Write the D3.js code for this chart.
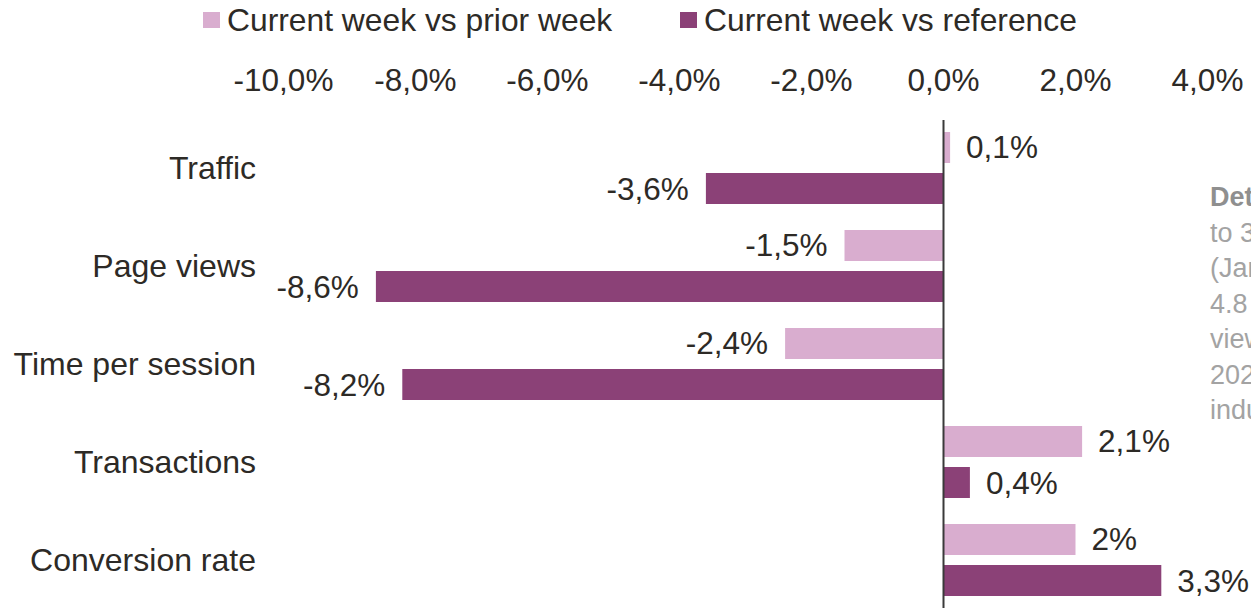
<!DOCTYPE html>
<html>
<head>
<meta charset="utf-8">
<script src="https://cdn.jsdelivr.net/npm/d3@7"></script>
<style>
  html, body { margin: 0; padding: 0; background: #fff; overflow: hidden; }
  svg { display: block; font-family: "Liberation Sans", Arial, sans-serif; }
</style>
</head>
<body>
<div id="root"></div>
<script>
const categories = ["Traffic", "Page views", "Time per session", "Transactions", "Conversion rate"];
const seriesNames = ["Current week vs prior week", "Current week vs reference"];
const priorWeek = [0.1, -1.5, -2.4, 2.1, 2.0];
const reference = [-3.6, -8.6, -8.2, 0.4, 3.3];
const xTicks = [-10, -8, -6, -4, -2, 0, 2, 4];
const noteLines = [
  "Details: Data from 1",
  "to 31 January 2023",
  "(January 2023) vs",
  "4.8 million page",
  "views in January",
  "2022 across the",
  "industry average."
];

const width = 1251;
const height = 608;
const colors = ["#d9adcf", "#8b4177"];
const textColor = "#2d2a26";
const fontSize = 31.5;

const locale = d3.formatLocale({
  decimal: ",",
  thousands: ".",
  grouping: [3],
  currency: ["", "€"],
  minus: "-"
});
const tickFmt = locale.format(".1f");
const valueFmt = locale.format(".1~f");

const svg = d3
  .select("#root")
  .append("svg")
  .attr("width", width)
  .attr("height", height)
  .attr("viewBox", [0, 0, width, height]);

const x = d3.scaleLinear().domain([-10, 4]).range([283.5, 1207.5]);

const y = d3.scaleBand().domain(categories).range([119, 609]);

const ySeries = d3
  .scaleBand()
  .domain([0, 1])
  .range([13, 85])
  .paddingInner(0.244);

// legend
const legendX = [203, 680];
const legend = svg
  .append("g")
  .selectAll("g")
  .data(seriesNames)
  .join("g")
  .attr("transform", (d, i) => `translate(${legendX[i]}, 0)`);

legend
  .append("rect")
  .attr("x", 0)
  .attr("y", 12)
  .attr("width", 17)
  .attr("height", 16)
  .attr("fill", (d, i) => colors[i]);

legend
  .append("text")
  .attr("x", 24)
  .attr("y", 20)
  .attr("dominant-baseline", "central")
  .attr("font-size", 31.8)
  .attr("fill", textColor)
  .text((d) => d);

// x axis labels (top, no line)
svg
  .append("g")
  .selectAll("text")
  .data(xTicks)
  .join("text")
  .attr("x", (d) => x(d))
  .attr("y", 80)
  .attr("text-anchor", "middle")
  .attr("dominant-baseline", "central")
  .attr("font-size", fontSize)
  .attr("fill", textColor)
  .text((d) => tickFmt(d) + "%");

// category labels
svg
  .append("g")
  .selectAll("text")
  .data(categories)
  .join("text")
  .attr("x", 256)
  .attr("y", (d) => y(d) + y.bandwidth() / 2)
  .attr("text-anchor", "end")
  .attr("dominant-baseline", "central")
  .attr("font-size", 32)
  .attr("fill", textColor)
  .text((d) => d);

// bars
const rows = categories.map((c, i) => ({
  category: c,
  values: [priorWeek[i], reference[i]]
}));

const group = svg
  .append("g")
  .selectAll("g")
  .data(rows)
  .join("g")
  .attr("transform", (d) => `translate(0, ${y(d.category)})`);

const cell = group
  .selectAll("g")
  .data((d) => d.values.map((v, s) => ({ v, s })))
  .join("g");

cell
  .append("rect")
  .attr("x", (d) => x(Math.min(0, d.v)))
  .attr("y", (d) => ySeries(d.s))
  .attr("width", (d) => Math.abs(x(d.v) - x(0)))
  .attr("height", ySeries.bandwidth())
  .attr("fill", (d) => colors[d.s]);

cell
  .append("text")
  .attr("x", (d) => (d.v < 0 ? x(d.v) - 17 : x(d.v) + 16))
  .attr("y", (d) => ySeries(d.s) + ySeries.bandwidth() / 2)
  .attr("text-anchor", (d) => (d.v < 0 ? "end" : "start"))
  .attr("dominant-baseline", "central")
  .attr("font-size", fontSize)
  .attr("fill", textColor)
  .text((d) => valueFmt(d.v) + "%");

// zero line
svg
  .append("line")
  .attr("x1", x(0))
  .attr("x2", x(0))
  .attr("y1", 120)
  .attr("y2", height)
  .attr("stroke", "#3a3a3a")
  .attr("stroke-width", 2);

// side note (cut off by the right edge, as in the source)
const note = svg
  .append("text")
  .attr("font-size", 27)
  .attr("fill", "#a3a3a3");

note
  .selectAll("tspan")
  .data(noteLines)
  .join("tspan")
  .attr("x", 1210)
  .attr("y", (d, i) => 206 + i * 35.5)
  .attr("font-weight", (d, i) => (i === 0 ? "bold" : null))
  .attr("fill", (d, i) => (i === 0 ? "#8f8f8f" : null))
  .text((d) => d);
</script>
</body>
</html>
